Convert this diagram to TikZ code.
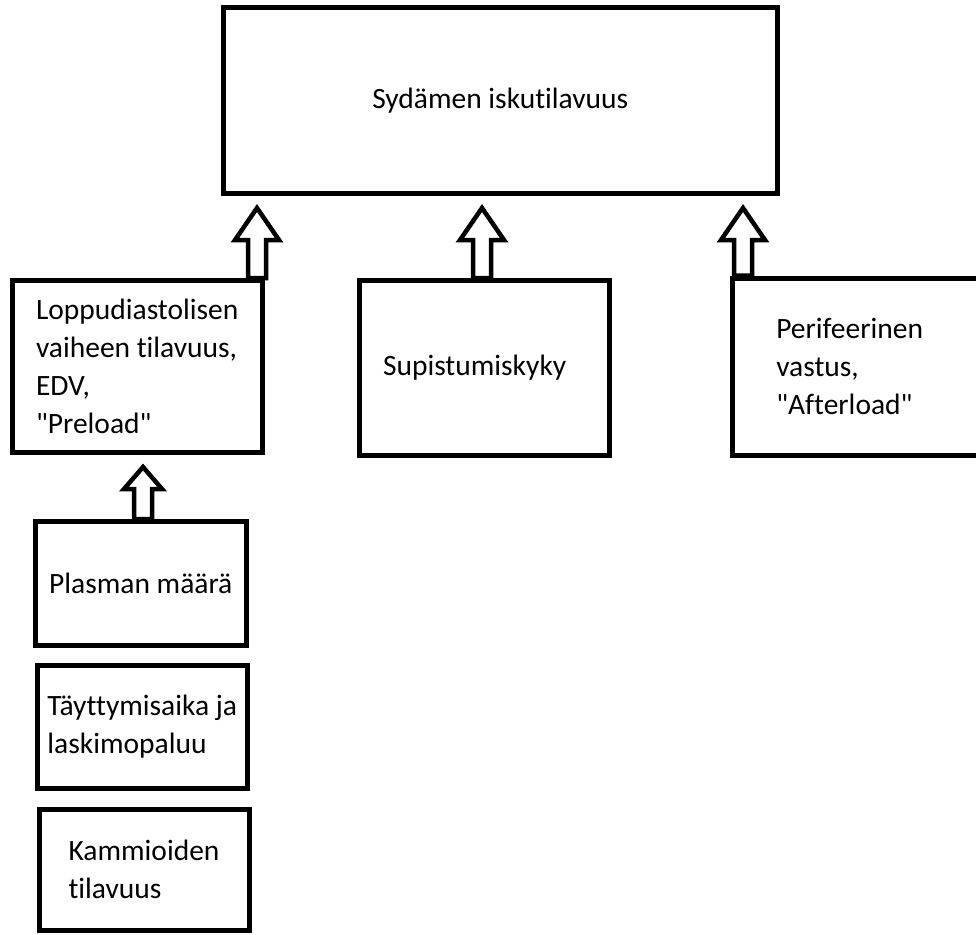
\documentclass[tikz,border=0pt]{standalone}
\usepackage{fontspec}
\setmainfont{Carlito}[Ligatures={TeXOff,CommonOff}]
\usetikzlibrary{calc}

% hollow upward block arrow: x, from node, to node, head length, head half width
\newcommand{\hollowarrow}[5]{%
  \draw[fatline] ($(#1,0 |- #2.north)+(-9,0)$)
    -- ($(#1,0 |- #3.south)+(-9,12+#4)$)
    -- ($(#1,0 |- #3.south)+(-#5,12+#4)$)
    -- ($(#1,0 |- #3.south)+(0,12)$)
    -- ($(#1,0 |- #3.south)+(#5,12+#4)$)
    -- ($(#1,0 |- #3.south)+(9,12+#4)$)
    -- ($(#1,0 |- #2.north)+(9,0)$) -- cycle;}

\begin{document}
\begin{tikzpicture}[x=1pt, y=-1pt,
    box/.style={draw, line width=5pt, inner sep=0pt, align=left,
                font=\fontsize{29.5}{38}\selectfont},
    fatline/.style={draw, line width=4.5pt, fill=white, line join=miter}
]
    \clip (0,0) rectangle (976,934);
    \fill[white] (0,0) rectangle (976,934);

    \node[box, minimum width=554.5pt, minimum height=186pt] (sv) at (500.25,100.5) {Sydämen iskutilavuus};

    \node[box, minimum width=249.5pt, minimum height=172pt] (edv) at (137.25,366.5) {
        Loppudiastolisen\\vaiheen tilavuus,\\EDV,\\"Preload"
    };

    \node[box, minimum width=250pt, minimum height=174.5pt, text width=203pt] (sup) at (484.5,367.75) {Supistumiskyky};

    \node[box, minimum width=267.5pt, minimum height=177.5pt, text width=180pt] (per) at (866.25,366.75) {
        Perifeerinen\\vastus,\\"Afterload"
    };

    \node[box, minimum width=211.5pt, minimum height=124pt] (plasma) at (140.75,583.5) {Plasman määrä};

    \node[box, minimum width=210.5pt, minimum height=123.5pt] (fill) at (142.25,726.75) {
        Täyttymisaika ja\\laskimopaluu
    };

    \node[box, minimum width=210pt, minimum height=121pt] (kam) at (144,869.5) {
        Kammioiden\\tilavuus
    };

    \hollowarrow{257}{edv}{sv}{32}{22}
    \hollowarrow{482}{sup}{sv}{32}{22}
    \hollowarrow{743}{per}{sv}{32}{22}
    \hollowarrow{143}{plasma}{edv}{22}{19}
\end{tikzpicture}
\end{document}
